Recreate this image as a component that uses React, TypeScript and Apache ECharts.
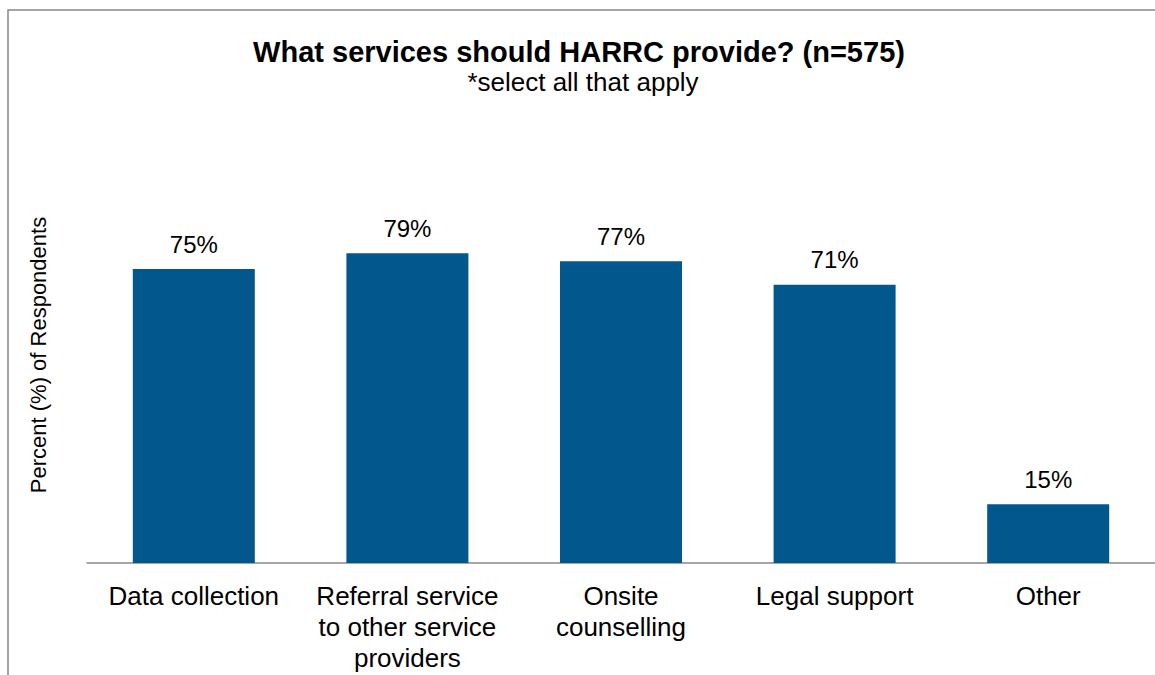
import React, { useEffect, useRef } from "react";
import * as echarts from "echarts";

const titleText = "What services should HARRC provide? (n=575)";
const subtitleText = "*select all that apply";
const yAxisTitle = "Percent (%) of Respondents";
const categories = [
  "Data collection",
  "Referral service\nto other service\nproviders",
  "Onsite\ncounselling",
  "Legal support",
  "Other",
];
const values = [75, 79, 77, 71, 15];

const FONT = "'Liberation Sans', Arial, sans-serif";

export default function App() {
  const ref = useRef<HTMLDivElement>(null);
  useEffect(() => {
    if (!ref.current) return;
    const chart = echarts.init(ref.current, null, { renderer: "svg" });
    chart.setOption({
      animation: false,
      backgroundColor: "#ffffff",
      textStyle: { fontFamily: FONT },
      grid: { left: 87, top: 171, width: 1071, height: 392, containLabel: false },
      xAxis: {
        type: "category",
        data: categories,
        axisLine: { show: true, lineStyle: { color: "#898989", width: 1.5 } },
        axisTick: { show: false },
        axisLabel: {
          interval: 0,
          fontSize: 26,
          lineHeight: 31,
          margin: 17,
          color: "#000000",
          fontFamily: FONT,
        },
      },
      yAxis: {
        type: "value",
        min: 0,
        max: 100,
        show: false,
        splitLine: { show: false },
      },
      series: [
        {
          type: "bar",
          data: values,
          barWidth: 122,
          itemStyle: { color: "#02578C" },
          label: {
            show: true,
            position: "top",
            distance: 13,
            fontSize: 24,
            color: "#000000",
            fontFamily: FONT,
            formatter: (p: any) => p.value + "%",
          },
        },
      ],
      graphic: [
        {
          type: "rect",
          shape: { x: 8, y: 10, width: 1300, height: 800 },
          style: { fill: "none", stroke: "#888888", lineWidth: 1.5 },
          silent: true,
        },
        {
          type: "text",
          x: 579,
          y: 52,
          style: {
            text: titleText,
            font: `bold 29px ${FONT}`,
            fill: "#000000",
            align: "center",
            verticalAlign: "middle",
          },
        },
        {
          type: "text",
          x: 583,
          y: 82,
          style: {
            text: subtitleText,
            font: `26px ${FONT}`,
            fill: "#000000",
            align: "center",
            verticalAlign: "middle",
          },
        },
        {
          type: "text",
          x: 38,
          y: 355,
          rotation: Math.PI / 2,
          style: {
            text: yAxisTitle,
            font: `22px ${FONT}`,
            fill: "#000000",
            align: "center",
            verticalAlign: "middle",
          },
        },
      ],
    });
    return () => chart.dispose();
  }, []);
  return (
    <div
      ref={ref}
      style={{ position: "absolute", left: 0, top: 0, width: 1155, height: 675 }}
    />
  );
}
